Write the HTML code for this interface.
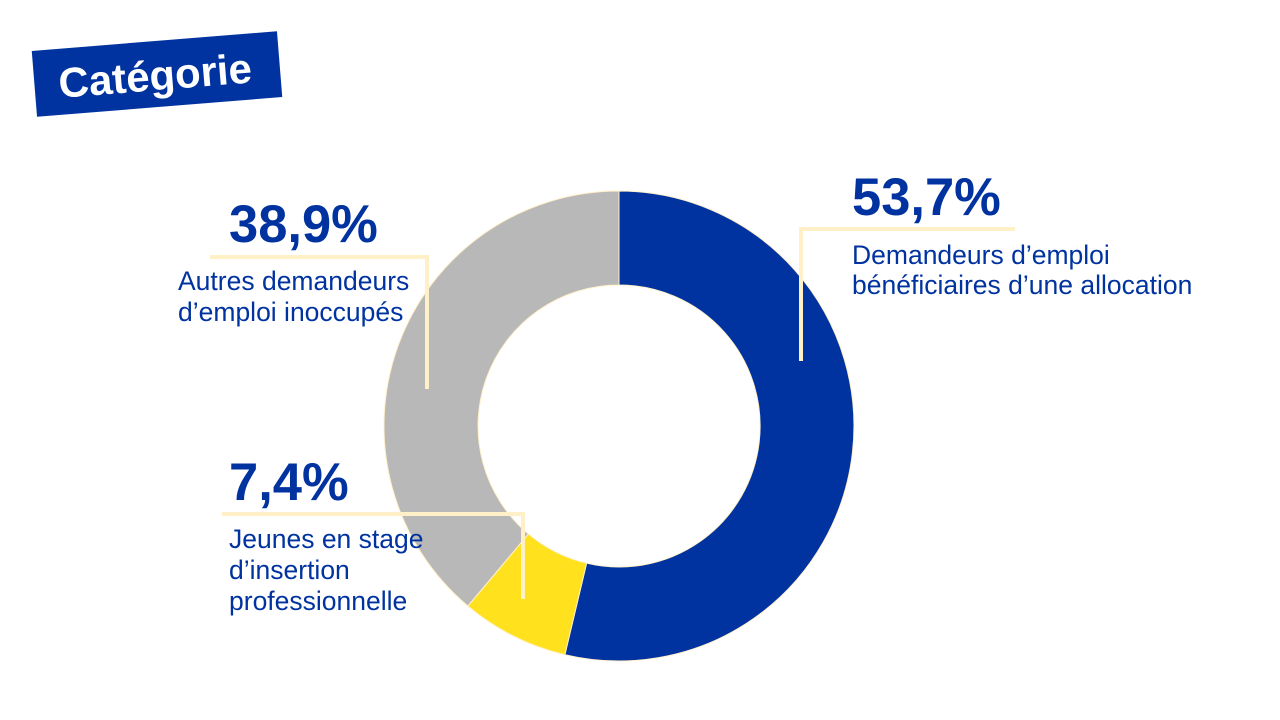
<!DOCTYPE html>
<html><head><meta charset="utf-8"><style>
body{margin:0;width:1280px;height:720px;background:#fff;overflow:hidden;position:relative;font-family:"Liberation Sans",Arial,sans-serif}
</style></head><body>
<svg width="1280" height="720" style="position:absolute;left:0;top:0" font-family="Liberation Sans, Arial, sans-serif">
<g transform="rotate(-4.6 157 74)">
<rect x="34" y="41" width="246" height="66" fill="#0033A0"/>
<text x="155" y="90" text-anchor="middle" fill="#fff" font-size="42" font-weight="bold">Catégorie</text>
</g>
<g stroke="#FFF0C8" stroke-width="1">
<path d="M619,191 A235,235 0 1,1 564.9,654.7 L586.6,563.2 A141,141 0 1,0 619,285 Z" fill="#0033A0"/>
<path d="M564.9,654.7 A235,235 0 0,1 467.9,606 L528.4,534 A141,141 0 0,0 586.6,563.2 Z" fill="#FFE11E"/>
<path d="M467.9,606 A235,235 0 0,1 619,191 L619,285 A141,141 0 0,0 528.4,534 Z" fill="#B8B8B8"/>
</g>
<g stroke="#FFF0C8" stroke-width="4" fill="none">
<path d="M1015,229 H801 V361"/>
<path d="M210,257 H427 V389"/>
<path d="M222,514 H523 V599"/>
</g>
<g fill="#0033A0">
<text x="852" y="215" font-size="52.5" font-weight="bold">53,7%</text>
<text x="852" y="264" font-size="26.5">Demandeurs d’emploi</text>
<text x="852" y="294" font-size="26.5">bénéficiaires d’une allocation</text>
<text x="229" y="242" font-size="52.5" font-weight="bold">38,9%</text>
<text x="178" y="290" font-size="26.5">Autres demandeurs</text>
<text x="178" y="321" font-size="26.5">d’emploi inoccupés</text>
<text x="229" y="500" font-size="52.5" font-weight="bold">7,4%</text>
<text x="229" y="548" font-size="26.5">Jeunes en stage</text>
<text x="229" y="579" font-size="26.5">d’insertion</text>
<text x="229" y="610" font-size="26.5">professionnelle</text>
</g>
</svg>
</body></html>
